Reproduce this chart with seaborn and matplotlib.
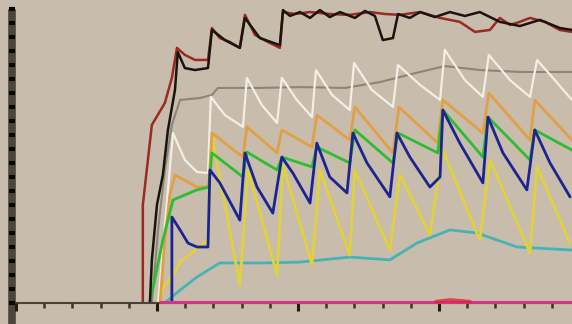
import numpy as np
import seaborn as sns
import matplotlib.pyplot as plt
import pandas as pd
from matplotlib.ticker import MultipleLocator, NullFormatter

# 背景和颜色
bg = '#c8bcad'
sns.set_style('white', {'axes.facecolor': bg, 'figure.facecolor': bg})

# ---- 数据 (时间, 数值) ----
red_t = [4.50, 4.50, 4.82, 5.28, 5.53, 5.71, 5.99, 6.35, 6.81, 6.95, 7.23, 7.59, 7.94, 8.12, 8.48, 8.94, 9.36,
         9.47, 9.89, 10.43, 11.13, 11.84, 12.55, 13.09, 13.62, 14.33, 15.04, 15.74, 16.28, 16.81, 17.16, 17.52,
         17.87, 18.23, 18.76, 19.29, 19.72]
red_v = [0, 35.0, 63.6, 71.4, 80.4, 91.1, 88.6, 86.8, 86.8, 98.2, 94.6, 93.2, 91.1, 102.9, 95.7, 93.2, 91.1,
         103.9, 103.2, 103.9, 103.2, 102.9, 103.9, 103.2, 102.9, 103.9, 101.8, 100.4, 96.8, 97.5, 101.8, 99.3,
         100.4, 101.8, 100.4, 97.5, 96.8]

black_t = [4.75, 4.82, 5.00, 5.21, 5.39, 5.64, 5.74, 5.99, 6.35, 6.81, 6.95, 7.41, 7.94, 8.12, 8.65, 9.36, 9.47,
           9.72, 10.07, 10.43, 10.78, 11.13, 11.49, 12.02, 12.38, 12.73, 13.01, 13.37, 13.55, 13.97, 14.33, 14.86,
           15.39, 15.92, 16.45, 17.16, 17.87, 18.58, 19.29, 19.72]
black_v = [0, 15.4, 35.0, 45.7, 61.8, 76.1, 89.6, 83.9, 83.2, 83.9, 97.5, 93.9, 91.1, 101.8, 94.6, 92.1, 104.6,
           102.5, 103.9, 101.8, 104.6, 102.1, 103.9, 101.8, 104.3, 102.5, 93.9, 94.6, 103.2, 101.8, 103.9, 102.1,
           103.9, 102.5, 103.9, 100.4, 98.9, 101.1, 98.2, 97.5]

gray_t = [4.82, 5.04, 5.28, 5.53, 5.82, 6.52, 6.95, 7.16, 8.65, 10.07, 11.67, 12.91, 14.33, 15.21, 16.45, 17.87, 19.72]
gray_v = [0, 26.1, 47.5, 63.6, 72.5, 73.2, 74.3, 76.8, 76.8, 77.1, 76.8, 78.9, 82.5, 84.6, 83.2, 82.5, 82.5]

white_t = [5.04, 5.21, 5.39, 5.57, 5.99, 6.42, 6.81, 6.91, 7.41, 8.05, 8.19, 8.72, 9.26, 9.43, 9.96, 10.50, 10.64,
           11.21, 11.84, 11.99, 12.62, 13.37, 13.55, 14.33, 15.04, 15.21, 15.92, 16.56, 16.77, 17.52, 18.23, 18.48,
           19.11, 19.72]
white_v = [0, 18.9, 40.4, 60.7, 51.1, 46.8, 46.4, 73.6, 67.1, 62.9, 80.4, 70.7, 64.3, 80.4, 72.5, 66.4, 83.2,
           74.3, 68.9, 85.7, 76.1, 70.0, 85.0, 77.9, 72.5, 90.4, 79.6, 73.6, 88.6, 79.6, 73.6, 86.8, 79.6, 72.5]

orange_t = [5.11, 5.28, 5.46, 5.64, 6.42, 6.84, 6.95, 8.05, 8.19, 9.26, 9.43, 10.50, 10.67, 11.84, 12.02, 13.37,
            13.58, 14.96, 15.14, 16.56, 16.77, 18.23, 18.40, 19.72]
orange_v = [0, 22.5, 38.6, 45.7, 41.4, 41.4, 60.7, 52.1, 62.9, 53.6, 61.8, 55.7, 67.1, 58.2, 70.0, 53.6,
            70.0, 57.1, 72.5, 60.7, 75.0, 58.2, 72.5, 58.2]

green_t = [4.75, 5.21, 5.57, 6.42, 6.84, 6.95, 8.05, 8.19, 9.26, 9.43, 10.50, 10.67, 11.84, 12.02, 13.37, 13.55,
           14.96, 15.14, 16.56, 16.74, 18.23, 18.40, 19.72]
green_v = [0, 22.5, 36.8, 40.4, 41.4, 53.6, 45.0, 53.9, 47.5, 52.1, 48.6, 55.7, 50.0, 61.8, 50.0, 60.7,
           53.6, 68.9, 52.1, 66.4, 51.1, 61.8, 54.6]

blue_t = [5.53, 5.53, 5.82, 6.10, 6.42, 6.81, 6.88, 7.23, 7.94, 8.12, 8.55, 9.11, 9.43, 9.82, 10.43, 10.67, 11.13,
          11.74, 11.95, 12.45, 13.26, 13.51, 13.97, 14.68, 15.04, 15.14, 15.74, 16.56, 16.74, 17.27, 18.12, 18.40,
          18.94, 19.65]
blue_v = [0, 30.7, 26.1, 21.4, 20.0, 20.0, 47.5, 42.9, 29.6, 53.6, 41.4, 32.1, 52.1, 46.4, 35.7, 57.1, 45.0,
          39.3, 60.7, 50.0, 37.9, 60.7, 52.1, 41.4, 45.0, 68.9, 57.1, 42.9, 66.4, 53.6, 40.4, 61.8, 50.0, 37.9]

yellow_t = [5.04, 5.28, 5.57, 5.82, 6.35, 6.81, 6.95, 7.94, 8.23, 9.26, 9.47, 10.50, 10.78, 11.84, 12.02, 13.26,
            13.62, 14.68, 15.14, 16.45, 16.81, 18.23, 18.48, 19.65]
yellow_v = [0, 6.4, 10.0, 14.6, 18.9, 22.5, 60.0, 6.4, 47.5, 10.0, 49.3, 13.6, 47.5, 17.1, 47.5, 18.9,
            45.7, 24.3, 54.6, 22.5, 51.1, 17.9, 48.6, 21.4]

teal_t = [5.28, 5.82, 6.42, 7.23, 8.76, 10.07, 11.84, 13.26, 14.22, 15.39, 16.35, 17.77, 19.72]
teal_v = [0, 4.6, 9.3, 14.3, 14.3, 14.6, 16.4, 15.4, 21.4, 26.1, 25.0, 20.0, 18.9]

magenta_t = [5.11, 19.72]
magenta_v = [0.3, 0.3]

blip_t = [14.9, 15.4, 16.1]
blip_v = [0.5, 1.1, 0.5]

series = [
    ('teal', teal_t, teal_v, '#46b4b2', 2.0),
    ('yellow', yellow_t, yellow_v, '#e0d23c', 2.0),
    ('gray', gray_t, gray_v, '#8a877a', 1.5),
    ('white', white_t, white_v, '#f3efe4', 1.6),
    ('orange', orange_t, orange_v, '#e2a044', 2.0),
    ('green', green_t, green_v, '#2ebd32', 2.0),
    ('blue', blue_t, blue_v, '#1c2490', 2.0),
    ('red', red_t, red_v, '#9a2a22', 1.8),
    ('black', black_t, black_v, '#1a1410', 1.8),
]

fig = plt.figure(figsize=(5.72, 3.24), dpi=100)
ax = fig.add_axes([12 / 572, 21 / 324, 560 / 572, 303 / 324])

for name, t, v, c, lw in series:
    df = pd.DataFrame({'t': t, 'v': v})
    sns.lineplot(data=df, x='t', y='v', sort=False, estimator=None, color=c, linewidth=lw, ax=ax)

df = pd.DataFrame({'t': magenta_t, 'v': magenta_v})
sns.lineplot(data=df, x='t', y='v', sort=False, estimator=None, color='#d8308c', linewidth=2.2, ax=ax,
             clip_on=False, zorder=5)
df = pd.DataFrame({'t': blip_t, 'v': blip_v})
sns.lineplot(data=df, x='t', y='v', sort=False, estimator=None, color='#e02030', linewidth=2.6, alpha=0.75, ax=ax,
             clip_on=False, zorder=6)

ax.set_xlim(-0.14, 19.72)
ax.set_ylim(0, 108.2)
ax.set_xlabel('')
ax.set_ylabel('')

# 坐标轴样式
ax.set_axisbelow(False)
for s in ['top', 'right']:
    ax.spines[s].set_visible(False)
ax.spines['left'].set_color('#4e453a')
ax.spines['left'].set_linewidth(5.5)
ax.spines['left'].set_bounds(-7, 103.6)
ax.spines['left'].set_zorder(0.3)
ax.spines['bottom'].set_color('#4a4238')
ax.spines['bottom'].set_linewidth(1.5)

ax.xaxis.set_major_locator(MultipleLocator(5))
ax.xaxis.set_minor_locator(MultipleLocator(1))
ax.yaxis.set_major_locator(MultipleLocator(5))
ax.xaxis.set_major_formatter(NullFormatter())
ax.yaxis.set_major_formatter(NullFormatter())
ax.tick_params(axis='x', which='major', direction='out', length=5.5, width=2.2, color='#1e1a16', bottom=True)
ax.tick_params(axis='x', which='minor', direction='out', length=3.5, width=1.8, color='#3a342c', bottom=True)
ax.tick_params(axis='y', which='major', direction='inout', length=5, width=3, color='#0a0806', left=True)

fig.savefig('out.png', dpi=100, facecolor=bg)
